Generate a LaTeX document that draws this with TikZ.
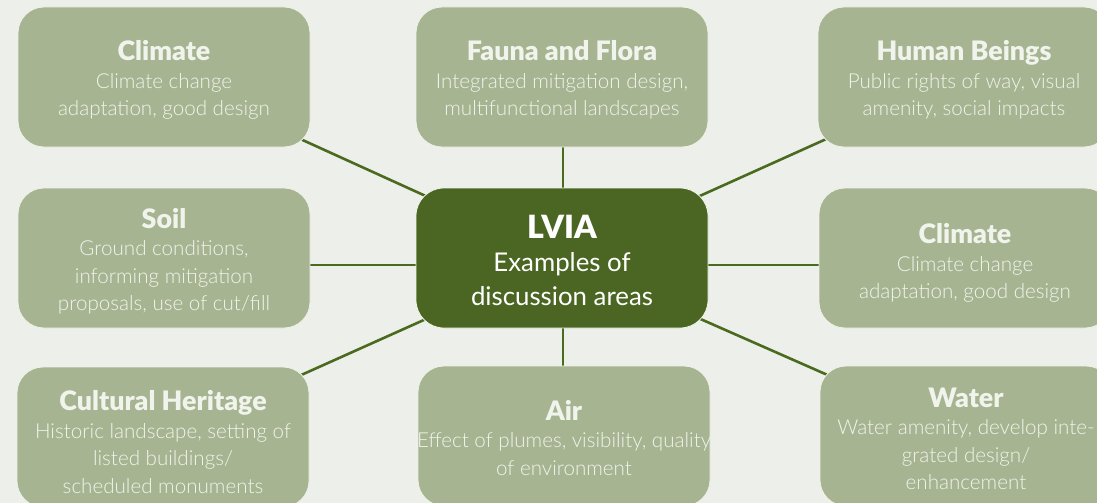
\documentclass[tikz,border=0pt]{standalone}
\usepackage{fontspec}
\setmainfont{Lato}
\newfontfamily\lightfont{Lato Light}
\newfontfamily\heavyfont{Lato Black}
\usetikzlibrary{backgrounds}
\definecolor{pagebg}{HTML}{EDF0EA}
\definecolor{sage}{HTML}{A7B491}
\definecolor{sageedge}{HTML}{EEF2E8}
\definecolor{forest}{HTML}{4B6622}
\definecolor{linkgreen}{HTML}{4A6A20}
\definecolor{softwhite}{HTML}{F1F4EC}
\newcommand{\ttl}[1]{{\heavyfont\fontsize{26.8}{29}\selectfont #1}}
\begin{document}
\begin{tikzpicture}[x=1pt,y=-1pt,
  panel/.style={draw=sageedge, line width=0.8pt,
    minimum width=292pt, minimum height=140pt, inner sep=0pt},
  topic/.style={panel, fill=sage, rounded corners=26pt},
  hub/.style={panel, fill=forest, rounded corners=28pt},
  topictext/.style={align=center, text=softwhite, inner sep=0pt,
    font=\lightfont\fontsize{20.6}{27.5}\selectfont, yshift=-#1},
  topictext/.default=3pt,
  hubtext/.style={align=center, text=white, inner sep=0pt,
    font=\rmfamily\fontsize{25.8}{33.5}\selectfont, yshift=-2pt},
  link/.style={draw=linkgreen, line width=2.6pt}]
\useasboundingbox (0,0) rectangle (1097,503);
\clip (0,0) rectangle (1097,503);

% central hub
\node[hub, label={[hubtext]center:{{\heavyfont\fontsize{32}{34}\selectfont LVIA}\\Examples of\\discussion areas}}]
  (lvia) at (562,258) {};

% top row
\node[topic, label={[topictext]center:{\ttl{Climate}\\Climate change\\adaptation, good design}}]
  (clim1) at (164,77) {};
\node[topic, label={[topictext]center:{\ttl{Fauna and Flora}\\Integrated mitigation design,\\multifunctional landscapes}}]
  (fauna) at (562,77) {};
\node[topic, label={[topictext]center:{\ttl{Human Beings}\\Public rights of way, visual\\amenity, social impacts}}]
  (human) at (964,77) {};

% middle row
\node[topic, label={[topictext]center:{\ttl{Soil}\\Ground conditions,\\informing mitigation\\proposals, use of cut/fill}}]
  (soil) at (164,258) {};
\node[topic, label={[topictext=5pt]center:{\ttl{Climate}\\Climate change\\adaptation, good design}}]
  (clim2) at (965,258) {};

% bottom row
\node[topic, label={[topictext=5pt]center:{\ttl{Cultural Heritage}\\Historic landscape, setting of\\listed buildings/\\scheduled monuments}}]
  (cult) at (163,437) {};
\node[topic, label={[topictext=2pt]center:{\ttl{Air}\\Effect of plumes, visibility, quality\\of environment}}]
  (air) at (564,436) {};
\node[topic, label={[topictext=3pt]center:{\ttl{Water}\\Water amenity, develop inte-\\grated design/\\enhancement}}]
  (water) at (966,436) {};

% page colour and spokes, kept beneath the boxes
\begin{pgfonlayer}{background}
  \fill[pagebg] (0,0) rectangle (1097,503);
  \draw[link] (clim1.center) -- (lvia.center);
  \draw[link] (human.center) -- (lvia.center);
  \draw[link] (cult.center) -- (lvia.center);
  \draw[link] (water.center) -- (lvia.center);
  \draw[link] ([xshift=1pt]lvia.center) -- ([xshift=1pt]lvia.center |- fauna.center);
  \draw[link] ([xshift=1pt]lvia.center) -- ([xshift=1pt]lvia.center |- air.center);
  \draw[link] ([yshift=-7pt]soil.center) -- ([yshift=-7pt]lvia.center);
  \draw[link] ([yshift=-7pt]lvia.center) -- ([yshift=-7pt]clim2.center);
\end{pgfonlayer}
\end{tikzpicture}
\end{document}
